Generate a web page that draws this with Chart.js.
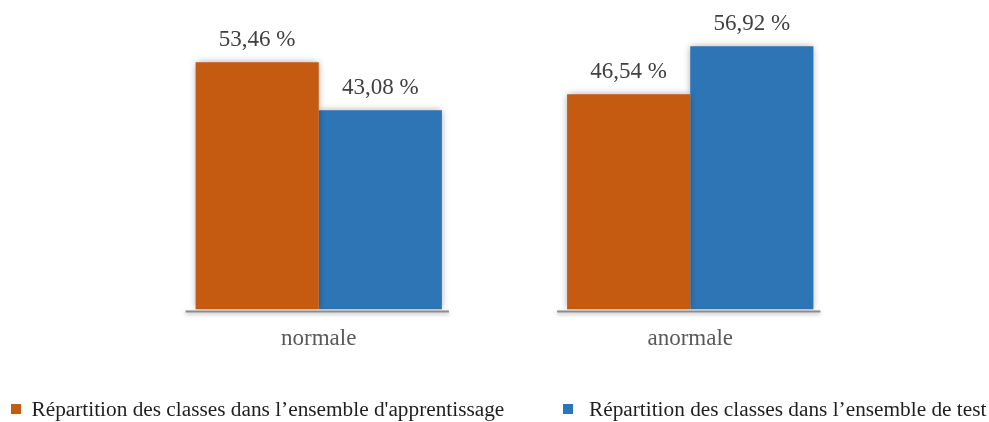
<!DOCTYPE html>
<html>
<head>
<meta charset="utf-8">
<script src="https://cdn.jsdelivr.net/npm/chart.js@4.4.1/dist/chart.umd.min.js"></script>
<style>
  html, body { margin: 0; padding: 0; background: #ffffff; }
  #wrap { width: 989px; height: 422px; position: relative; }
</style>
</head>
<body>
<div id="wrap"><canvas id="chart" width="989" height="422"></canvas></div>
<script>
// Class distribution in the training and test sets (percent)
const categories = ['normale', 'anormale'];
const trainShare = [53.46, 46.54];
const testShare = [43.08, 56.92];
const seriesNames = [
  'Répartition des classes dans l’ensemble d\'apprentissage',
  'Répartition des classes dans l’ensemble de test'
];
const seriesColors = ['#C55A11', '#2E75B6'];

const serif = '"Liberation Serif", "Times New Roman", serif';

// Soft drop shadow behind the bars
const barShadow = {
  id: 'barShadow',
  beforeDatasetsDraw(chart) {
    const ctx = chart.ctx;
    ctx.save();
    ctx.shadowColor = 'rgba(0,0,0,0.35)';
    ctx.shadowBlur = 7;
    ctx.shadowOffsetX = 0;
    ctx.shadowOffsetY = 0;
  },
  afterDatasetsDraw(chart) {
    chart.ctx.restore();
  }
};

// Short baseline under each category group, plus the value labels
const groupBaseAndLabels = {
  id: 'groupBaseAndLabels',
  afterDatasetsDraw(chart) {
    const ctx = chart.ctx;
    const yScale = chart.scales.y;
    const base = yScale.getPixelForValue(0);
    const metas = chart.data.datasets.map((d, i) => chart.getDatasetMeta(i));

    categories.forEach((c, idx) => {
      const bars = metas.map(m => m.data[idx]);
      let left = Infinity, right = -Infinity;
      bars.forEach(b => {
        left = Math.min(left, b.x - b.width / 2);
        right = Math.max(right, b.x + b.width / 2);
      });
      ctx.save();
      ctx.shadowColor = 'rgba(0,0,0,0.35)';
      ctx.shadowBlur = 4;
      ctx.shadowOffsetY = 1.5;
      ctx.strokeStyle = '#8c8c8c';
      ctx.lineWidth = 2;
      ctx.beginPath();
      ctx.moveTo(left - 10, base + 2);
      ctx.lineTo(right + 7, base + 2);
      ctx.stroke();
      ctx.restore();
    });

    ctx.save();
    ctx.font = '23px ' + serif;
    ctx.fillStyle = '#404040';
    ctx.textAlign = 'center';
    ctx.textBaseline = 'alphabetic';
    metas.forEach((m, di) => {
      m.data.forEach((bar, i) => {
        const v = chart.data.datasets[di].data[i];
        const txt = v.toFixed(2).replace('.', ',') + ' %';
        ctx.fillText(txt, bar.x, bar.y - 16);
      });
    });
    ctx.restore();
  }
};

// Legend row along the bottom edge, one entry per dataset
const legendRow = {
  id: 'legendRow',
  afterDraw(chart) {
    const ctx = chart.ctx;
    const boxX = [11, 563];
    const textX = [31.5, 589];
    const boxY = 404;
    ctx.save();
    ctx.font = '21.3px ' + serif;
    ctx.textAlign = 'left';
    ctx.textBaseline = 'alphabetic';
    chart.data.datasets.forEach((ds, i) => {
      ctx.fillStyle = ds.backgroundColor;
      ctx.fillRect(boxX[i], boxY, 10, 10);
      ctx.fillStyle = '#1f1f1f';
      ctx.fillText(ds.label, textX[i], boxY + 12);
    });
    ctx.restore();
  }
};

new Chart(document.getElementById('chart'), {
  type: 'bar',
  data: {
    labels: categories,
    datasets: [
      { label: seriesNames[0], data: trainShare, backgroundColor: seriesColors[0] },
      { label: seriesNames[1], data: testShare, backgroundColor: seriesColors[1] }
    ]
  },
  options: {
    responsive: false,
    animation: false,
    events: [],
    layout: { padding: { left: 133, right: 113, top: 32, bottom: 61 } },
    datasets: {
      bar: { categoryPercentage: 0.663, barPercentage: 1.0, borderWidth: 0 }
    },
    scales: {
      x: {
        grid: { display: false },
        border: { display: false },
        ticks: { font: { family: serif, size: 23 }, color: '#595959', padding: 8 }
      },
      y: { display: false, min: 0, max: 60 }
    },
    plugins: {
      tooltip: { enabled: false },
      legend: { display: false }
    }
  },
  plugins: [barShadow, groupBaseAndLabels, legendRow]
});
</script>
</body>
</html>
